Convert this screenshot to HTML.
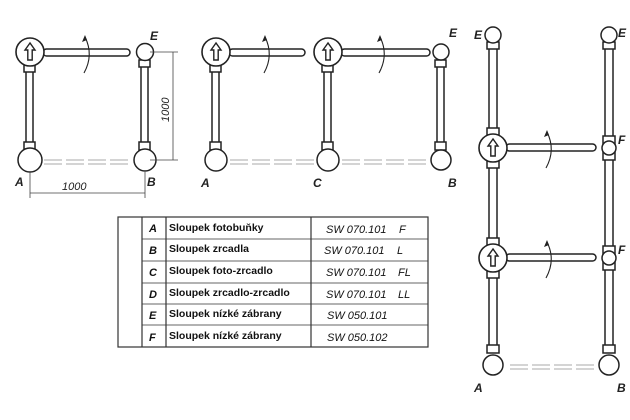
<!DOCTYPE html>
<html><head><meta charset="utf-8"><style>
body{margin:0;background:#fff;}
svg{display:block;}
text{font-family:"Liberation Sans",sans-serif;}
</style></head><body>
<svg width="630" height="420" viewBox="0 0 630 420" xmlns="http://www.w3.org/2000/svg">
<defs>
<g id="head">
  <circle r="14" fill="#fff" stroke="#222" stroke-width="1.6"/>
  <path d="M0,-9 L-5,-2 L-2.2,-2 L-2.2,8 L2.2,8 L2.2,-2 L5,-2 Z" fill="#fff" stroke="#222" stroke-width="1.4"/>
</g>
<g id="rot">
  <path d="M-4,20 Q6,2 -3,-16" fill="none" stroke="#222" stroke-width="1.1"/>
  <path d="M-3,-18 L-6,-11 L-1,-13 Z" fill="#222"/>
</g>
<g id="beam" stroke="#aaa" stroke-width="1" fill="none">
  <path d="M0,-2 h18 M0,2 h18 M22,-2 h18 M22,2 h18 M44,-2 h18 M44,2 h18 M66,-2 h18 M66,2 h18"/>
</g>
</defs>
<g stroke="#222" stroke-width="1.5" fill="#fff">
<rect x="26" y="64" width="7" height="84"/>
<rect x="24" y="64" width="11" height="8"/>
<rect x="24" y="142" width="11" height="8"/>
<rect x="43" y="49" width="87" height="7" rx="3.5"/>
<circle cx="30" cy="160" r="12"/>
<rect x="141" y="60" width="7" height="88"/>
<rect x="139" y="60" width="11" height="7"/>
<rect x="139" y="142" width="11" height="8"/>
<circle cx="145" cy="52" r="8.5"/>
<circle cx="145" cy="160" r="11"/>
<rect x="212" y="64" width="7" height="84"/>
<rect x="210" y="64" width="11" height="8"/>
<rect x="210" y="142" width="11" height="8"/>
<rect x="229" y="49" width="76" height="7" rx="3.5"/>
<circle cx="216" cy="160" r="11"/>
<rect x="324" y="64" width="7" height="84"/>
<rect x="322" y="64" width="11" height="8"/>
<rect x="322" y="142" width="11" height="8"/>
<rect x="341" y="49" width="89" height="7" rx="3.5"/>
<circle cx="328" cy="160" r="11"/>
<rect x="437" y="60" width="7" height="88"/>
<rect x="435" y="60" width="11" height="7"/>
<rect x="435" y="142" width="11" height="8"/>
<circle cx="441" cy="52" r="8"/>
<circle cx="441" cy="160" r="10"/>
<rect x="489" y="42" width="8" height="310"/>
<rect x="487" y="42" width="12" height="7"/>
<rect x="487" y="128" width="12" height="7"/>
<rect x="487" y="161" width="12" height="7"/>
<rect x="487" y="238" width="12" height="7"/>
<rect x="487" y="271" width="12" height="7"/>
<rect x="487" y="345" width="12" height="8"/>
<circle cx="493" cy="35" r="8"/>
<circle cx="493" cy="365" r="10"/>
<rect x="506" y="144" width="90" height="7" rx="3.5"/>
<rect x="506" y="254" width="90" height="7" rx="3.5"/>
<rect x="605" y="42" width="8" height="310"/>
<rect x="603" y="42" width="12" height="7"/>
<rect x="603" y="136" width="12" height="24"/>
<rect x="603" y="246" width="12" height="24"/>
<rect x="603" y="345" width="12" height="8"/>
<circle cx="609" cy="35" r="8"/>
<circle cx="609" cy="148" r="7"/>
<circle cx="609" cy="258" r="7"/>
<circle cx="609" cy="365" r="10"/>
</g>
<use href="#head" x="30" y="52"/>
<use href="#head" x="216" y="52"/>
<use href="#head" x="328" y="52"/>
<use href="#head" x="493" y="148"/>
<use href="#head" x="493" y="258"/>
<use href="#rot" x="88" y="53"/>
<use href="#rot" x="268" y="53"/>
<use href="#rot" x="383" y="53"/>
<use href="#rot" x="550" y="148"/>
<use href="#rot" x="550" y="258"/>
<use href="#beam" x="44" y="162"/>
<use href="#beam" x="230" y="162"/>
<use href="#beam" x="342" y="162"/>
<use href="#beam" x="510" y="367"/>
<g stroke="#444" stroke-width="0.8" fill="none">
<path d="M150,52 H178 M150,160 H178 M173,52 V160"/>
<path d="M30,172 V198 M145,172 V198 M30,193 H145"/>
</g>
<g fill="#222" font-style="italic" font-size="11">
<text x="62" y="190">1000</text>
<text transform="translate(169,122) rotate(-90)">1000</text>
</g>
<g fill="#222" font-style="italic" font-weight="bold" font-size="12">
<text x="15" y="186">A</text>
<text x="147" y="186">B</text>
<text x="150" y="40">E</text>
<text x="201" y="187">A</text>
<text x="313" y="187">C</text>
<text x="448" y="187">B</text>
<text x="449" y="37">E</text>
<text x="474" y="39">E</text>
<text x="618" y="37">E</text>
<text x="618" y="144">F</text>
<text x="618" y="254">F</text>
<text x="474" y="392">A</text>
<text x="617" y="392">B</text>
</g>
<g stroke="#333" stroke-width="1.2" fill="none">
<rect x="118" y="217" width="310" height="130"/>
<path d="M142,217 V347 M166,217 V347 M311,217 V347"/>
<path d="M142,239 H428 M142,261 H428 M142,283 H428 M142,304 H428 M142,325 H428" stroke-width="0.8"/>
</g>
<g fill="#111" font-size="10.5">
<g font-weight="bold" font-style="italic" font-size="11">
<text x="149" y="232">A</text><text x="149" y="254">B</text><text x="149" y="276">C</text>
<text x="149" y="298">D</text><text x="149" y="319">E</text><text x="149" y="341">F</text>
</g>
<g font-weight="bold">
<text x="169" y="231">Sloupek fotobuňky</text>
<text x="169" y="252">Sloupek zrcadla</text>
<text x="169" y="274">Sloupek foto-zrcadlo</text>
<text x="169" y="296">Sloupek zrcadlo-zrcadlo</text>
<text x="169" y="317">Sloupek nízké zábrany</text>
<text x="169" y="339">Sloupek nízké zábrany</text>
</g>
<g font-style="italic" font-size="11">
<text x="326" y="233">SW 070.101</text><text x="399" y="233">F</text>
<text x="324" y="254">SW 070.101</text><text x="397" y="254">L</text>
<text x="326" y="276">SW 070.101</text><text x="398" y="276">FL</text>
<text x="326" y="298">SW 070.101</text><text x="398" y="298">LL</text>
<text x="327" y="319">SW 050.101</text>
<text x="327" y="341">SW 050.102</text>
</g>
</g>
</svg>
</body></html>
